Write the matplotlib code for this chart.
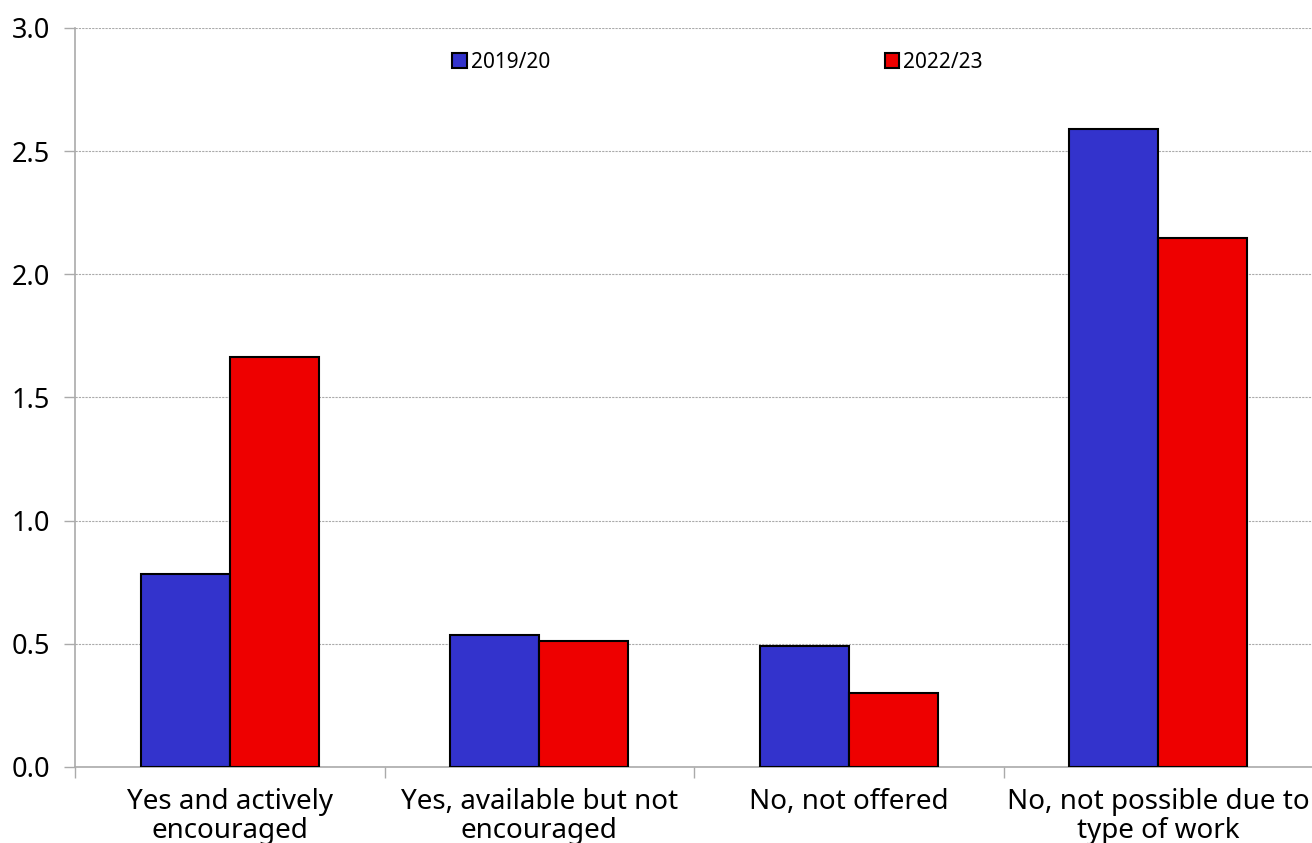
import numpy as np
import matplotlib.pyplot as plt

# 数据
categories = ['Yes and actively\nencouraged', 'Yes, available but not\nencouraged',
              'No, not offered', 'No, not possible due to\ntype of work']
series_names = ['2019/20', '2022/23']
vals_2019 = [0.784, 0.536, 0.491, 2.59]
vals_2022 = [1.665, 0.512, 0.30, 2.148]
colors = ['#3333CC', '#EE0000']

plt.rcParams['font.family'] = ['Noto Sans', 'DejaVu Sans']

fig = plt.figure(figsize=(13.12, 8.43), dpi=100)
ax = fig.add_axes([0.0572, 0.0902, 0.9436, 0.8766])

x = np.arange(len(categories))
w = 0.288
ax.bar(x - w / 2, vals_2019, w, color=colors[0], edgecolor='black', linewidth=1.5,
       label=series_names[0], zorder=3)
ax.bar(x + w / 2, vals_2022, w, color=colors[1], edgecolor='black', linewidth=1.5,
       label=series_names[1], zorder=3)

ax.set_xlim(-0.5, 3.5)
ax.set_ylim(0, 3.0)
ax.set_yticks(np.arange(0, 3.01, 0.5))
ax.set_yticklabels(['%.1f' % v for v in np.arange(0, 3.01, 0.5)])
ax.yaxis.grid(True, linestyle=(0, (2, 1)), color='#aaaaaa', linewidth=0.8, zorder=0)

ax.set_xticks(x)
ax.set_xticklabels(categories, fontsize=20, linespacing=1.02)
ax.tick_params(axis='x', which='major', length=0, pad=15.5)
ax.set_xticks(np.arange(-0.5, 3.6, 1), minor=True)
ax.tick_params(axis='x', which='minor', length=8, color='#aaaaaa', width=1)
ax.tick_params(axis='y', labelsize=19.5, length=8, color='#aaaaaa', width=1, pad=10)

for s in ['top', 'right']:
    ax.spines[s].set_visible(False)
for s in ['left', 'bottom']:
    ax.spines[s].set_color('#aaaaaa')
    ax.spines[s].set_linewidth(1.2)

ax.legend(loc='upper left', bbox_to_anchor=(0.2895, 0.993), ncol=2, frameon=False,
          fontsize=15, handlelength=0.7, handleheight=0.7, handletextpad=0.2,
          columnspacing=16.05)

plt.savefig('out.png', dpi=100)
